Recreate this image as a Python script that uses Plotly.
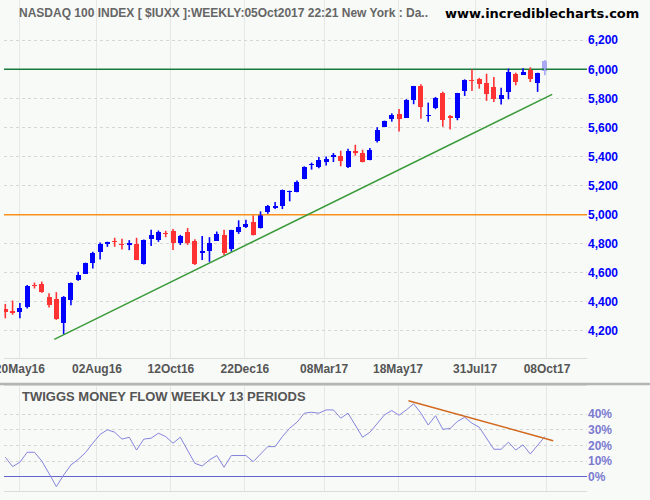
import pandas as pd
import plotly.graph_objects as go

# ---------------- data ----------------
week_dates = pd.date_range("2016-05-06", periods=75, freq="7D")

opens = [4352, 4335, 4333, 4368, 4512, 4522, 4437, 4421, 4253, 4416,
         4549, 4595, 4667, 4742, 4795, 4816, 4800, 4791, 4795, 4660,
         4834, 4827, 4870, 4889, 4808, 4882, 4822, 4739, 4753, 4822,
         4861, 4764, 4878, 4914, 4951, 4905, 5016, 5049, 5058, 5157,
         5157, 5248, 5339, 5330, 5360, 5394, 5406, 5326, 5440, 5426,
         5374, 5510, 5606, 5656, 5690, 5668, 5789, 5882, 5678, 5735,
         5838, 5678, 5666, 5851, 5922, 5934, 5909, 5877, 5799, 5845,
         5966, 5961, 6000, 5906, 5989]
highs = [4386, 4409, 4393, 4517, 4533, 4540, 4460, 4467, 4440, 4533,
         4607, 4670, 4745, 4809, 4814, 4841, 4834, 4825, 4841, 4830,
         4896, 4891, 4889, 4901, 4861, 4908, 4831, 4854, 4845, 4884,
         4896, 4896, 4961, 4965, 4995, 5023, 5067, 5088, 5173, 5166,
         5236, 5333, 5358, 5396, 5401, 5424, 5440, 5453, 5481, 5447,
         5458, 5602, 5647, 5697, 5727, 5795, 5886, 5897, 5771, 5810,
         5845, 5685, 5838, 5931, 5998, 5941, 5970, 5947, 5874, 6005,
         5977, 6007, 6014, 5977, 6064]
lows = [4287, 4312, 4287, 4354, 4492, 4462, 4361, 4276, 4179, 4377,
        4545, 4593, 4630, 4692, 4779, 4779, 4761, 4756, 4687, 4658,
        4785, 4813, 4845, 4757, 4792, 4792, 4653, 4688, 4676, 4820,
        4723, 4746, 4868, 4908, 4857, 4905, 5007, 5039, 5039, 5092,
        5155, 5244, 5310, 5319, 5339, 5362, 5333, 5321, 5406, 5360,
        5374, 5497, 5604, 5640, 5572, 5668, 5760, 5660, 5639, 5726,
        5605, 5586, 5650, 5817, 5851, 5867, 5783, 5776, 5758, 5794,
        5890, 5961, 5913, 5845, 5959]
closes = [4333, 4325, 4358, 4512, 4506, 4467, 4377, 4285, 4437, 4531,
          4588, 4669, 4733, 4795, 4809, 4812, 4791, 4805, 4687, 4825,
          4861, 4878, 4866, 4808, 4852, 4808, 4658, 4753, 4804, 4868,
          4739, 4896, 4914, 4938, 4861, 5007, 5062, 5062, 5173, 5166,
          5227, 5328, 5349, 5378, 5385, 5412, 5367, 5440, 5422, 5360,
          5444, 5583, 5645, 5686, 5656, 5789, 5884, 5743, 5685, 5803,
          5653, 5662, 5838, 5925, 5917, 5899, 5831, 5799, 5822, 5984,
          5913, 5984, 5936, 5977, 6055]

# Twiggs Money Flow (13 weeks), percent
tmf = [12.4, 6.4, 9.2, 15.6, 15.6, 10.0, 2.0, -6.4, 1.0, 7.5,
       11.0, 15.4, 21.4, 27.0, 30.0, 28.4, 24.0, 25.2, 17.0, 24.0,
       24.6, 27.8, 25.6, 21.4, 25.2, 17.0, 8.5, 6.8, 10.7, 13.5,
       6.0, 13.5, 13.5, 13.5, 9.6, 14.5, 19.2, 19.2, 25.6, 31.0,
       34.8, 40.6, 41.2, 40.6, 42.7, 42.7, 37.4, 40.6, 32.7, 25.2,
       28.4, 34.2, 39.5, 42.3, 39.3, 42.7, 46.6, 40.6, 33.0, 39.0,
       30.3, 30.8, 35.3, 38.0, 34.2, 31.6, 24.6, 17.5, 17.5, 22.0,
       17.0, 20.3, 14.5, 20.3, 25.6]

# trend lines (date, value)
price_trend_dates = ["2016-06-22", "2017-10-13"]
price_trend_values = [4142, 5828]
tmf_trend_dates = ["2017-05-28", "2017-10-14"]
tmf_trend_values = [48.5, 23.0]

price_levels = [6000, 5000]

tick_dates = ["2016-05-20", "2016-08-02", "2016-10-12", "2016-12-22",
              "2017-03-08", "2017-05-18", "2017-07-31", "2017-10-08"]
tick_labels = ["20May16", "02Aug16", "12Oct16", "22Dec16",
               "08Mar17", "18May17", "31Jul17", "08Oct17"]
price_ticks = [4200, 4400, 4600, 4800, 5000, 5200, 5400, 5600, 5800, 6000, 6200]
price_tick_labels = ["4,200", "4,400", "4,600", "4,800", "5,000", "5,200",
                     "5,400", "5,600", "5,800", "6,000", "6,200"]
tmf_ticks = [0, 10, 20, 30, 40]
tmf_tick_labels = ["0%", "10%", "20%", "30%", "40%"]

# ---------------- styling ----------------
UP = "#0000ff"
DOWN = "#ff3333"
CUR = "#a8a8f4"
BG = "#f8faf8"
W, H = 650, 500
FONT = "Liberation Sans, Arial, sans-serif"

x_left = 4 / W
x_right = 587 / W
x_range = ["2016-05-04 18:00", "2017-11-15 10:00"]

n = len(closes)
colors = []
for i in range(n):
    if i == n - 1:
        colors.append(CUR)
    elif closes[i] >= opens[i]:
        colors.append(UP)
    else:
        colors.append(DOWN)

bases = [min(o, c) for o, c in zip(opens, closes)]
bodies = [max(abs(c - o), 8) for o, c in zip(opens, closes)]

fig = go.Figure()

# horizontal price levels (drawn first so candles sit on top)
level_colors = ["#1a7a3a", "#f7901e"]
for lv, lc in zip(price_levels, level_colors):
    fig.add_trace(go.Scatter(x=x_range, y=[lv, lv], mode="lines",
                             line=dict(color=lc, width=1.5),
                             hoverinfo="skip", showlegend=False,
                             xaxis="x", yaxis="y"))

# wicks
for col in (UP, DOWN, CUR):
    xs, ys = [], []
    for i in range(n):
        if colors[i] == col:
            xs += [week_dates[i], week_dates[i], None]
            ys += [lows[i], highs[i], None]
    fig.add_trace(go.Scatter(x=xs, y=ys, mode="lines",
                             line=dict(color=col, width=1.6),
                             hoverinfo="skip", showlegend=False,
                             xaxis="x", yaxis="y"))

# bodies
fig.add_trace(go.Bar(x=week_dates, y=bodies, base=bases,
                     marker=dict(color=colors, line=dict(width=0)),
                     width=4.8 * 86400000, showlegend=False,
                     hoverinfo="skip", xaxis="x", yaxis="y"))

# price trend line
fig.add_trace(go.Scatter(x=price_trend_dates, y=price_trend_values, mode="lines",
                         line=dict(color="#3a9a3a", width=1.5),
                         hoverinfo="skip", showlegend=False,
                         xaxis="x", yaxis="y"))

# TMF line
fig.add_trace(go.Scatter(x=week_dates, y=tmf, mode="lines",
                         line=dict(color="#8484dc", width=1),
                         hoverinfo="skip", showlegend=False,
                         xaxis="x2", yaxis="y2"))
fig.add_trace(go.Scatter(x=tmf_trend_dates, y=tmf_trend_values, mode="lines",
                         line=dict(color="#d2691e", width=1.5),
                         hoverinfo="skip", showlegend=False,
                         xaxis="x2", yaxis="y2"))

grid_v = "#e6e8e6"
grid_h = "#d6d6d6"

fig.update_layout(
    width=W, height=H,
    margin=dict(l=0, r=0, t=0, b=0, autoexpand=False),
    paper_bgcolor=BG, plot_bgcolor=BG,
    hovermode=False,
    bargap=0,
    xaxis=dict(domain=[x_left, x_right], type="date", range=x_range,
               anchor="y", tickmode="array", tickvals=tick_dates,
               ticktext=tick_labels, showgrid=True, gridcolor=grid_v,
               gridwidth=1, ticks="", zeroline=False,
               ticklabeloverflow="allow", automargin=False,
               showline=True, linecolor="#dcdcdc", linewidth=1, mirror=True,
               tickfont=dict(family=FONT, size=12, color="#555555", weight="bold"),
               fixedrange=True),
    yaxis=dict(domain=[1 - 358 / H, 1.0], range=[4014, 6477], side="right",
               anchor="x", tickmode="array", tickvals=price_ticks,
               ticktext=price_tick_labels, showgrid=True, gridcolor=grid_h,
               griddash="dot", zeroline=False, ticks="", automargin=False,
               showline=False,
               tickfont=dict(family=FONT, size=12, color="#0000ff", weight="bold"),
               fixedrange=True),
    xaxis2=dict(domain=[x_left, x_right], type="date", range=x_range,
                anchor="y2", matches="x", tickmode="array", tickvals=tick_dates,
                showticklabels=False, showgrid=True, gridcolor=grid_v,
                ticks="", zeroline=False, automargin=False,
                showline=True, linecolor="#dcdcdc", linewidth=1, mirror=True,
                fixedrange=True),
    yaxis2=dict(domain=[1 - 491 / H, 1 - 386 / H], range=[-9.2, 58],
                side="right", anchor="x2", tickmode="array", tickvals=tmf_ticks,
                ticktext=tmf_tick_labels, showgrid=True, gridcolor=grid_h,
                griddash="dot", zeroline=True, zerolinecolor="#6464cc",
                zerolinewidth=1.5, ticks="", showline=False, automargin=False,
                tickfont=dict(family=FONT, size=12, color="#7b7bd0", weight="bold"),
                fixedrange=True),
)

# separator between panels
fig.add_shape(type="line", xref="paper", yref="paper", x0=0, x1=1,
              y0=1 - 384 / H, y1=1 - 384 / H,
              line=dict(color="#b4b4b4", width=2.5))

# titles
fig.add_annotation(xref="paper", yref="paper", x=17 / W, y=1 - 13 / H,
                   xanchor="left", yanchor="middle", showarrow=False,
                   text="NASDAQ 100 INDEX [ $IUXX ]:WEEKLY:05Oct2017 22:21 New York : Da..",
                   font=dict(family=FONT, size=12, color="#666666", weight="bold"))
fig.add_annotation(xref="paper", yref="paper", x=641 / W, y=1 - 13 / H,
                   xanchor="right", yanchor="middle", showarrow=False,
                   text="www.incrediblecharts.com",
                   font=dict(family="DejaVu Sans, sans-serif", size=13,
                             color="#000000", weight="bold"))
fig.add_annotation(xref="paper", yref="paper", x=20 / W, y=1 - 396 / H,
                   xanchor="left", yanchor="middle", showarrow=False,
                   text="TWIGGS MONEY FLOW WEEKLY 13 PERIODS",
                   font=dict(family=FONT, size=13, color="#555555", weight="bold"))

fig.write_html("out.html", config={"displayModeBar": False, "staticPlot": True})
